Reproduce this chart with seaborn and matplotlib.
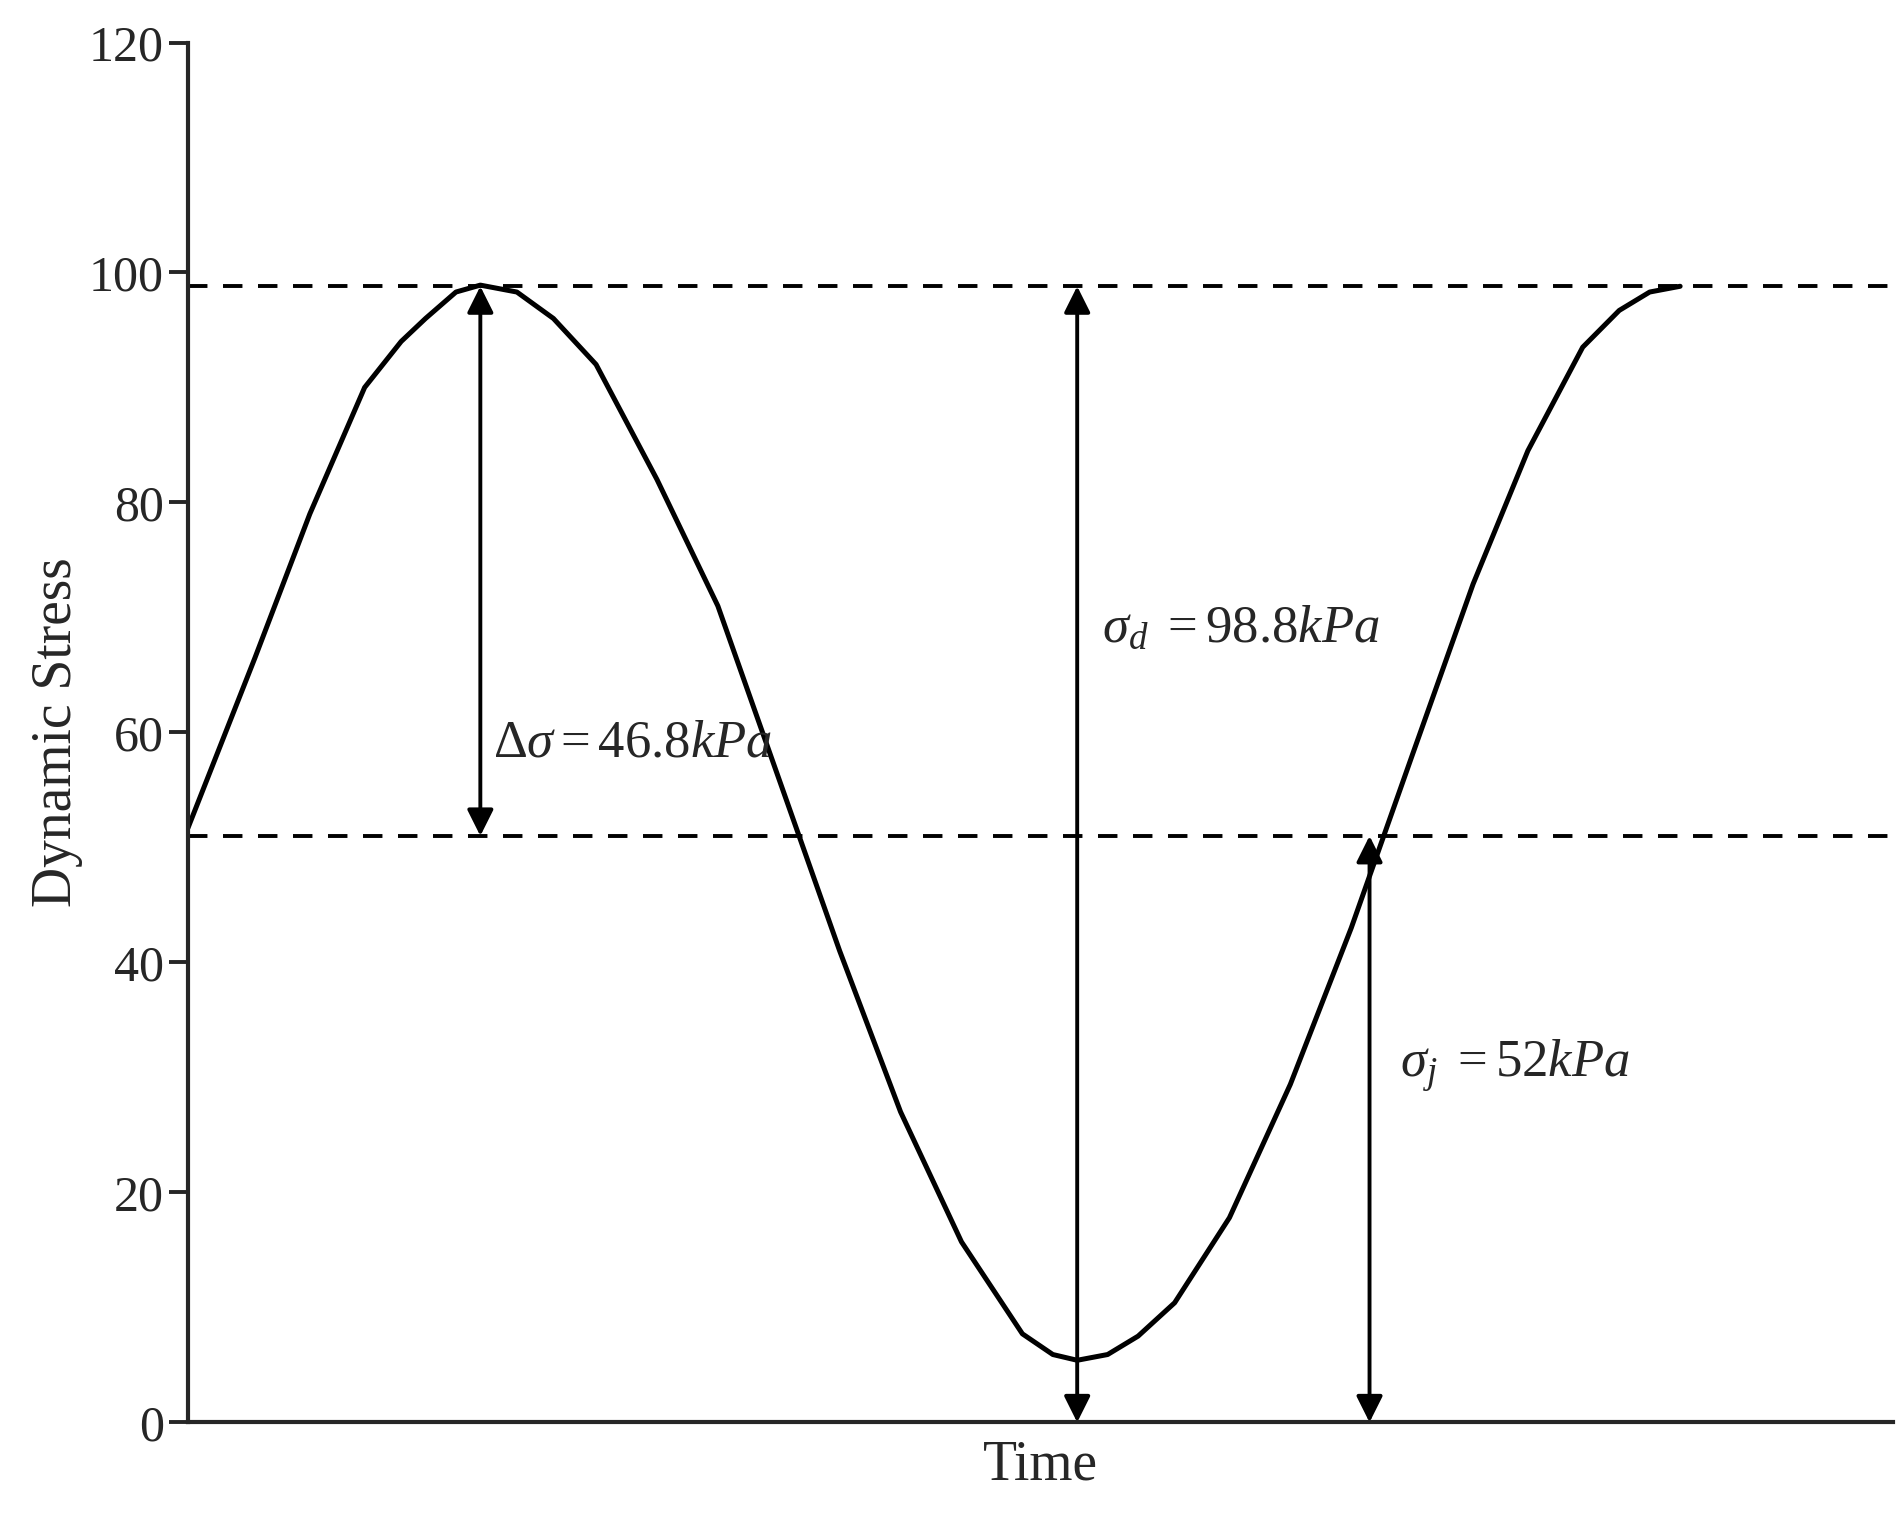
import numpy as np
import pandas as pd
import matplotlib
matplotlib.use('Agg')
import matplotlib.pyplot as plt
import seaborn as sns

sns.set_style('ticks')
plt.rcParams['font.family'] = ['Liberation Serif', 'DejaVu Serif']
plt.rcParams['mathtext.fontset'] = 'custom'
plt.rcParams['mathtext.rm'] = 'Liberation Serif'
plt.rcParams['mathtext.it'] = 'Liberation Serif:italic'

# curve (time in arbitrary units)
time = [0, 55, 100, 145, 175, 195, 220, 240, 270, 300, 335, 385, 435, 485, 535,
        585, 635, 685, 710, 730, 755, 780, 810, 855, 905, 955, 1005, 1055, 1100,
        1145, 1175, 1200, 1225]
stress = [51.7, 66.5, 79, 90, 94, 96, 98.3, 98.9, 98.3, 96, 92, 82, 71, 56, 41,
          27, 15.7, 7.7, 5.9, 5.4, 5.9, 7.5, 10.4, 17.8, 29.4, 43, 58, 72.9, 84.5,
          93.5, 96.7, 98.3, 98.8]
upper_level = 98.8
mean_level = 51.0
df = pd.DataFrame({'Time': time, 'Stress': stress})

fig = plt.figure(figsize=(18.99, 15.18), dpi=100)
ax = fig.add_axes([0.099, 0.063, 0.898, 0.909])
sns.lineplot(data=df, x='Time', y='Stress', color='black', linewidth=3.6, ax=ax)

ax.axhline(upper_level, color='black', ls=(0, (5, 4)), lw=2.8)
ax.axhline(mean_level, color='black', ls=(0, (5, 4)), lw=2.8)

arr = dict(arrowstyle='<|-|>', color='black', lw=2.8, mutation_scale=40, shrinkA=0, shrinkB=0)
ax.annotate('', xy=(240, upper_level), xytext=(240, mean_level), arrowprops=arr)
ax.annotate('', xy=(730, upper_level), xytext=(730, 0), arrowprops=arr)
ax.annotate('', xy=(970, mean_level), xytext=(970, 0), arrowprops=arr)

ax.text(250, 59, r'$\Delta\sigma = 46.8\mathit{kPa}$', fontsize=38, va='center')
ax.text(750, 69, r'$\sigma_{d}\ = 98.8\mathit{kPa}$', fontsize=38, va='center')
ax.text(995, 31, r'$\sigma_{j}\ = 52\mathit{kPa}$', fontsize=38, va='center')

ax.set_xlim(0, 1400)
ax.set_ylim(0, 120)
ax.set_yticks(range(0, 121, 20))
ax.set_xticks([])
ax.tick_params(axis='y', labelsize=36, width=2.8, length=14, direction='out')
ax.set_xlabel('Time', fontsize=40, labelpad=12)
ax.set_ylabel('Dynamic Stress', fontsize=40)
for s in ['top', 'right']:
    ax.spines[s].set_visible(False)
for s in ['left', 'bottom']:
    ax.spines[s].set_linewidth(3)

fig.savefig('out.png', dpi=100)
